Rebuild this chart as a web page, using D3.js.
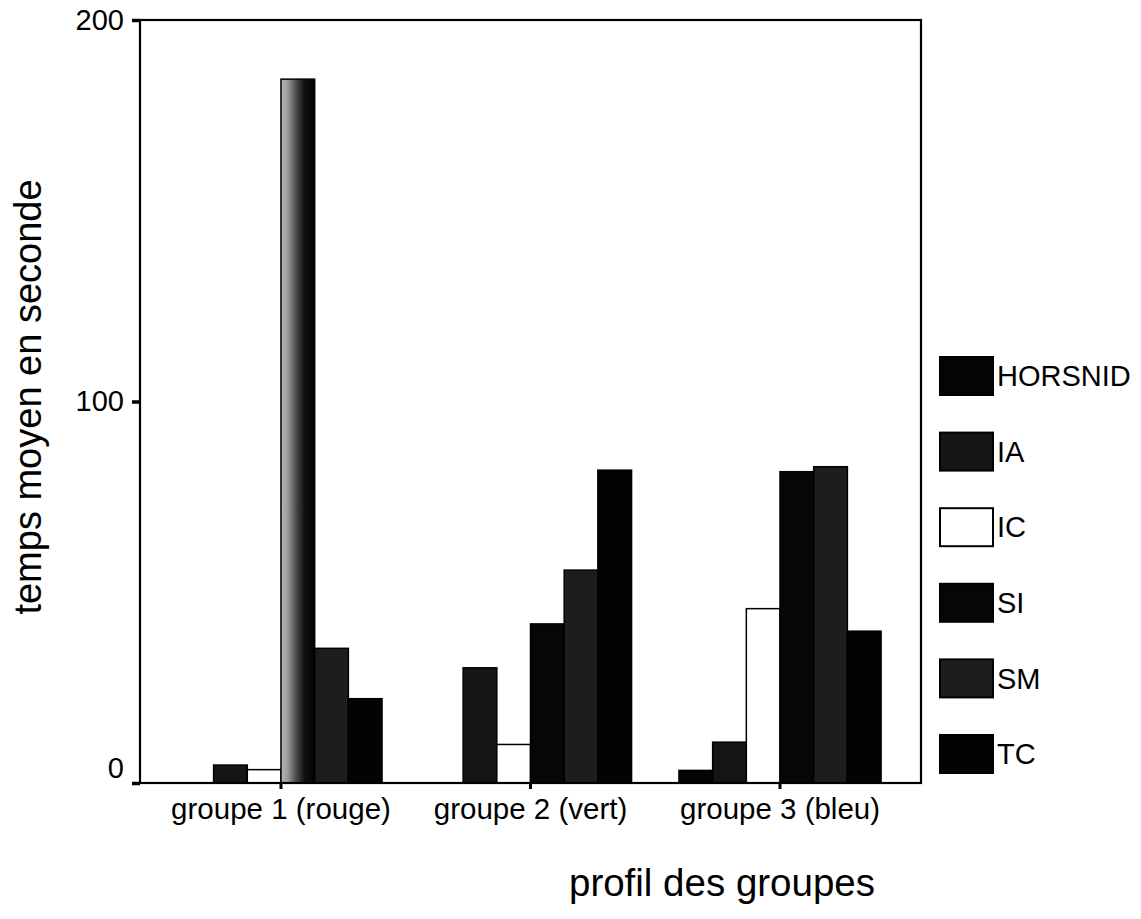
<!DOCTYPE html>
<html>
<head>
<meta charset="utf-8">
<script src="https://cdn.jsdelivr.net/npm/d3@7"></script>
<style>
  html, body { margin: 0; padding: 0; background: #fff; }
  svg { display: block; font-family: "Liberation Sans", Arial, sans-serif; }
</style>
</head>
<body>
<svg id="chart" width="1141" height="919"></svg>
<script>
// ---- data ----
const groups = ["groupe 1 (rouge)", "groupe 2 (vert)", "groupe 3 (bleu)"];
const seriesNames = ["HORSNID", "IA", "IC", "SI", "SM", "TC"];
const HORSNID = [0, 0, 3.3];
const IA = [4.7, 30.2, 10.7];
const IC = [3.5, 10.1, 45.7];
const SI = [184.5, 41.7, 81.6];
const SM = [35.3, 55.8, 82.9];
const TC = [22.1, 82.0, 39.8];
const yTicks = [0, 100, 200];
const yTitle = "temps moyen en seconde";
const xTitle = "profil des groupes";

(function () {
const seriesValues = { HORSNID, IA, IC, SI, SM, TC };
const fills = { HORSNID: "#040404", IA: "#151515", IC: "#ffffff", SI: "#060606", SM: "#1d1d1d", TC: "#030303" };

// ---- layout ----
const svg = d3.select("#chart");
const plotLeft = 140, plotRight = 921, plotTop = 20, plotBottom = 783;

const x = d3.scaleBand().domain(groups).range([plotLeft, plotRight]).paddingInner(0.19).paddingOuter(0.16);
const xs = d3.scaleBand().domain(seriesNames).range([0, x.bandwidth()]);
const y = d3.scaleLinear().domain([0, 200]).range([plotBottom, plotTop]);

const defs = svg.append("defs");
const grad = defs.append("linearGradient").attr("id", "grayGrad").attr("x1", "0").attr("x2", "1").attr("y1", "0").attr("y2", "0");
grad.append("stop").attr("offset", "0%").attr("stop-color", "#b5b5b5");
grad.append("stop").attr("offset", "20%").attr("stop-color", "#9a9a9a");
grad.append("stop").attr("offset", "45%").attr("stop-color", "#4a4a4a");
grad.append("stop").attr("offset", "70%").attr("stop-color", "#111");
grad.append("stop").attr("offset", "100%").attr("stop-color", "#030303");

// bars
const rows = [];
groups.forEach((g, gi) => seriesNames.forEach(s => rows.push({ g, s, v: seriesValues[s][gi] })));

svg.append("g").selectAll("rect").data(rows.filter(d => d.v > 0)).join("rect")
  .attr("x", d => x(d.g) + xs(d.s))
  .attr("y", d => y(d.v))
  .attr("width", xs.bandwidth())
  .attr("height", d => y(0) - y(d.v))
  .attr("fill", d => (d.g === groups[0] && d.s === "SI") ? "url(#grayGrad)" : fills[d.s])
  .attr("stroke", "#000")
  .attr("stroke-width", 1.5);

// frame
svg.append("rect").attr("x", plotLeft).attr("y", plotTop).attr("width", plotRight - plotLeft).attr("height", plotBottom - plotTop)
  .attr("fill", "none").attr("stroke", "#000").attr("stroke-width", 2.2);

// y axis
const yAxis = svg.append("g").attr("transform", `translate(${plotLeft},0)`)
  .call(d3.axisLeft(y).tickValues(yTicks).tickSize(8).tickPadding(8).tickFormat(d3.format("d")));
yAxis.select(".domain").remove();
yAxis.selectAll(".tick line").attr("stroke", "#000").attr("stroke-width", 3.5);
yAxis.selectAll(".tick text").attr("font-size", 29).attr("fill", "#000")
  .attr("font-family", "Liberation Sans, Arial, sans-serif")
  .attr("dy", d => d === 0 ? "-0.2em" : "0.32em");

// x axis
const xAxis = svg.append("g").attr("transform", `translate(0,${plotBottom})`)
  .call(d3.axisBottom(x).tickSize(6).tickPadding(9));
xAxis.select(".domain").remove();
xAxis.selectAll(".tick line").attr("stroke", "#000").attr("stroke-width", 3);
xAxis.selectAll(".tick text").attr("font-size", 29.5).attr("fill", "#000")
  .attr("font-family", "Liberation Sans, Arial, sans-serif");

// titles
svg.append("text").attr("transform", "translate(41,397) rotate(-90)")
  .attr("text-anchor", "middle").attr("font-size", 38).attr("fill", "#000").text(yTitle);
svg.append("text").attr("x", 722).attr("y", 896)
  .attr("text-anchor", "middle").attr("font-size", 38.5).attr("fill", "#000").text(xTitle);

// legend
const leg = d3.scalePoint().domain(seriesNames).range([376, 754]);
const lg = svg.append("g").selectAll("g").data(seriesNames).join("g")
  .attr("transform", d => `translate(940,${leg(d)})`);
lg.append("rect").attr("x", 0).attr("y", -19).attr("width", 53).attr("height", 38)
  .attr("fill", d => fills[d]).attr("stroke", "#000").attr("stroke-width", 2);
lg.append("text").attr("x", 57).attr("y", 0).attr("dy", "0.35em")
  .attr("font-size", 29).attr("fill", "#000").text(d => d);
})();
</script>
</body>
</html>
